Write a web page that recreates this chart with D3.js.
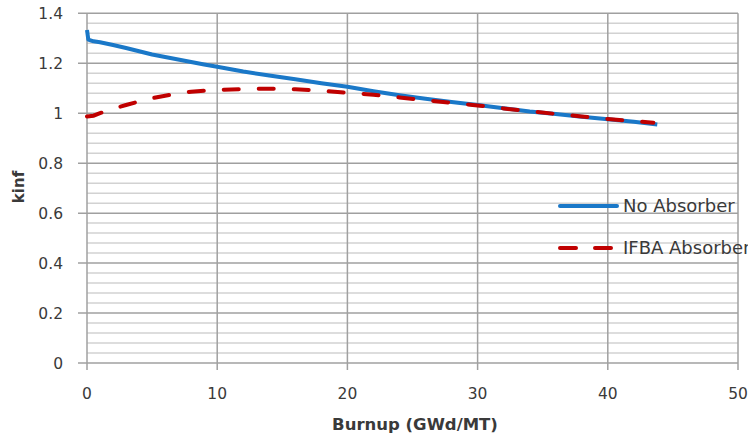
<!DOCTYPE html>
<html><head><meta charset="utf-8">
<script src="https://cdn.jsdelivr.net/npm/d3@7"></script>
<style>body{margin:0;background:#fff}svg{display:block}</style>
</head><body>
<svg id="c" width="748" height="438"></svg>
<script>
const burnupNo = [0, 0.1, 0.5, 1, 2, 3, 4, 5, 6, 7, 8, 9, 10, 12, 14, 16, 18, 20, 22, 24, 26, 28, 30, 32, 34, 36, 38, 40, 42, 43.8];
const kinfNo   = [1.333, 1.295, 1.288, 1.284, 1.273, 1.261, 1.248, 1.235, 1.225, 1.215, 1.205, 1.195, 1.186, 1.167, 1.151, 1.136, 1.12, 1.106, 1.088, 1.072, 1.058, 1.045, 1.033, 1.02, 1.007, 0.997, 0.986, 0.976, 0.966, 0.955];
const burnupIFBA = [0, 0.5, 1, 2, 3, 4, 5, 6, 7, 8, 9, 10, 12, 14, 16, 18, 20, 22, 24, 26, 28, 30, 32, 34, 36, 38, 40, 42, 43.5];
const kinfIFBA   = [0.987, 0.99, 1.0, 1.018, 1.033, 1.047, 1.06, 1.07, 1.079, 1.086, 1.09, 1.093, 1.097, 1.098, 1.096, 1.09, 1.082, 1.074, 1.063, 1.052, 1.042, 1.031, 1.019, 1.008, 0.997, 0.987, 0.977, 0.968, 0.962];
const xTicks = [0, 10, 20, 30, 40, 50];
const yTicks = [0, 0.2, 0.4, 0.6, 0.8, 1, 1.2, 1.4];
const seriesNames = ["No Absorber", "IFBA Absorber"];

const svg = d3.select("#c");
const m = {l: 87, r: 10, t: 13.3, b: 75};
const W = 748, H = 438;
const x = d3.scaleLinear().domain([0, 50]).range([m.l, W - m.r]);
const y = d3.scaleLinear().domain([0, 1.4]).range([H - m.b, m.t]);
const font = "DejaVu Sans, sans-serif";
const txt = "#3a3a3a";

// minor gridlines
const minor = d3.range(0, 1.4001, 0.04).filter(v => yTicks.every(t => Math.abs(t - v) > 1e-6));
svg.append("g").selectAll("line").data(minor).join("line")
  .attr("x1", x(0)).attr("x2", x(50)).attr("y1", d => y(d)).attr("y2", d => y(d))
  .attr("stroke", "#d2d2d2").attr("stroke-width", 1.5);
// major y gridlines
svg.append("g").selectAll("line").data(yTicks).join("line")
  .attr("x1", x(0) - 9).attr("x2", x(50)).attr("y1", d => y(d)).attr("y2", d => y(d))
  .attr("stroke", "#a0a0a0").attr("stroke-width", 1.5);
// vertical gridlines
svg.append("g").selectAll("line").data(xTicks).join("line")
  .attr("x1", d => x(d)).attr("x2", d => x(d)).attr("y1", y(1.4)).attr("y2", y(0) + 7)
  .attr("stroke", "#a0a0a0").attr("stroke-width", 1.5);

// tick labels
svg.append("g").selectAll("text").data(yTicks).join("text")
  .attr("x", 63).attr("y", d => y(d)).attr("dy", "0.36em")
  .attr("text-anchor", "end").attr("font-family", font).attr("font-size", 15.5).attr("fill", txt)
  .text(d => d3.format("")(d));
svg.append("g").selectAll("text").data(xTicks).join("text")
  .attr("x", d => x(d)).attr("y", 393.5).attr("dy", "0.36em")
  .attr("text-anchor", "middle").attr("font-family", font).attr("font-size", 15.5).attr("fill", txt)
  .text(d => d);

// axis titles
svg.append("text").attr("x", 415).attr("y", 424).attr("dy", "0.36em").attr("text-anchor", "middle")
  .attr("font-family", font).attr("font-weight", "bold").attr("font-size", 16.5).attr("fill", txt)
  .text("Burnup (GWd/MT)");
svg.append("text").attr("transform", "translate(19,187) rotate(-90)").attr("dy", "0.36em")
  .attr("text-anchor", "middle").attr("font-family", font).attr("font-weight", "bold")
  .attr("font-size", 15).attr("fill", txt).text("kinf");

const line = d3.line().x(d => x(d[0])).y(d => y(d[1]));
const blue = "#1a78c8", red = "#c00000";
svg.append("path").datum(burnupNo.map((b, i) => [b, kinfNo[i]]))
  .attr("d", line).attr("fill", "none").attr("stroke", blue).attr("stroke-width", 4)
  .attr("stroke-linejoin", "round");
svg.append("path").datum(burnupIFBA.map((b, i) => [b, kinfIFBA[i]]))
  .attr("d", line).attr("fill", "none").attr("stroke", red).attr("stroke-width", 4)
  .attr("stroke-dasharray", "15,20").attr("stroke-linecap", "round");

// legend
const lg = svg.append("g");
lg.append("line").attr("x1", 560).attr("x2", 617).attr("y1", 206).attr("y2", 206)
  .attr("stroke", blue).attr("stroke-width", 4).attr("stroke-linecap", "round");
lg.append("line").attr("x1", 560).attr("x2", 617).attr("y1", 248).attr("y2", 248)
  .attr("stroke", red).attr("stroke-width", 4).attr("stroke-linecap", "round")
  .attr("stroke-dasharray", "16,19");
lg.selectAll("text").data(seriesNames).join("text")
  .attr("x", 623).attr("y", (d, i) => i ? 248 : 206).attr("dy", "0.36em")
  .attr("font-family", font).attr("font-size", 18).attr("fill", txt).text(d => d);
</script>
</body></html>
